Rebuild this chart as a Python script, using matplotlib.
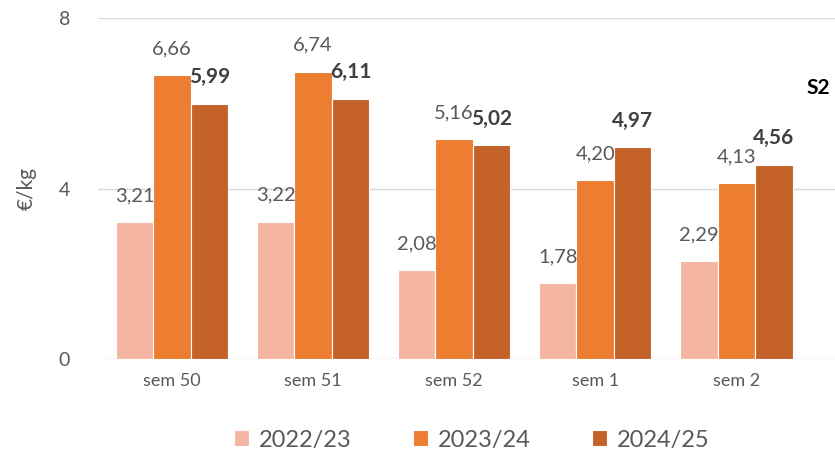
import numpy as np
import matplotlib.pyplot as plt

plt.rcParams["font.family"] = ["Lato", "DejaVu Sans"]

# ==========================================================
# DATA
# ==========================================================

weeks = ["sem 50", "sem 51", "sem 52", "sem 1", "sem 2"]
seasons = ["2022/23", "2023/24", "2024/25"]
v_2223 = [3.21, 3.22, 2.08, 1.78, 2.29]
v_2324 = [6.66, 6.74, 5.16, 4.20, 4.13]
v_2425 = [5.99, 6.11, 5.02, 4.97, 4.56]

colors = ["#F4B6A2", "#ED7D31", "#C4622A"]
GREY = "#595959"

# ==========================================================
# PLOT
# ==========================================================

fig = plt.figure(figsize=(8.35, 4.55), dpi=100)
ax = fig.add_axes([98 / 835, (455 - 359) / 455, (835 - 98) / 835, (359 - 18) / 455])

x = np.arange(len(weeks))
w = 0.266
series = [v_2223, v_2324, v_2425]

for k, (vals, col, lab) in enumerate(zip(series, colors, seasons)):
    xs = x + (k - 1) * w
    ax.bar(xs, vals, width=w, color=col, edgecolor="white", linewidth=0.8,
           label=lab, zorder=3)
    bold = k == 2
    for xi, v in zip(xs, vals):
        ax.annotate(f"{v:.2f}".replace(".", ","), (xi, v),
                    xytext=(0, 19), textcoords="offset points",
                    ha="center", va="center",
                    fontsize=15 if bold else 14.5,
                    fontweight="bold" if bold else "normal",
                    color="#404040" if bold else GREY, zorder=4)

ax.set_ylim(0, 8)
ax.set_yticks([0, 4, 8])
ax.set_xlim(-0.525, 4.70)
ax.set_xticks(x)
ax.set_xticklabels(weeks)
ax.tick_params(axis="x", length=0, labelsize=13, colors=GREY, pad=10)
ax.tick_params(axis="y", length=0, labelsize=14, colors=GREY, pad=20)
ax.grid(axis="y", color="#D9D9D9", linewidth=1, zorder=0)
for s in ax.spines.values():
    s.set_visible(False)

ax.set_ylabel("€/kg", fontsize=15, color=GREY, labelpad=16)

fig.text(806 / 835, 1 - 88 / 455, "S2", fontsize=15, fontweight="bold",
         color="black", ha="left", va="center")

fig.legend(loc="center", bbox_to_anchor=(0.565, 1 - 440 / 455), ncol=3,
           frameon=False, fontsize=17, labelcolor=GREY,
           handlelength=0.65, handleheight=0.65, handletextpad=0.4,
           columnspacing=2.6)

plt.savefig("out.png", dpi=100)
